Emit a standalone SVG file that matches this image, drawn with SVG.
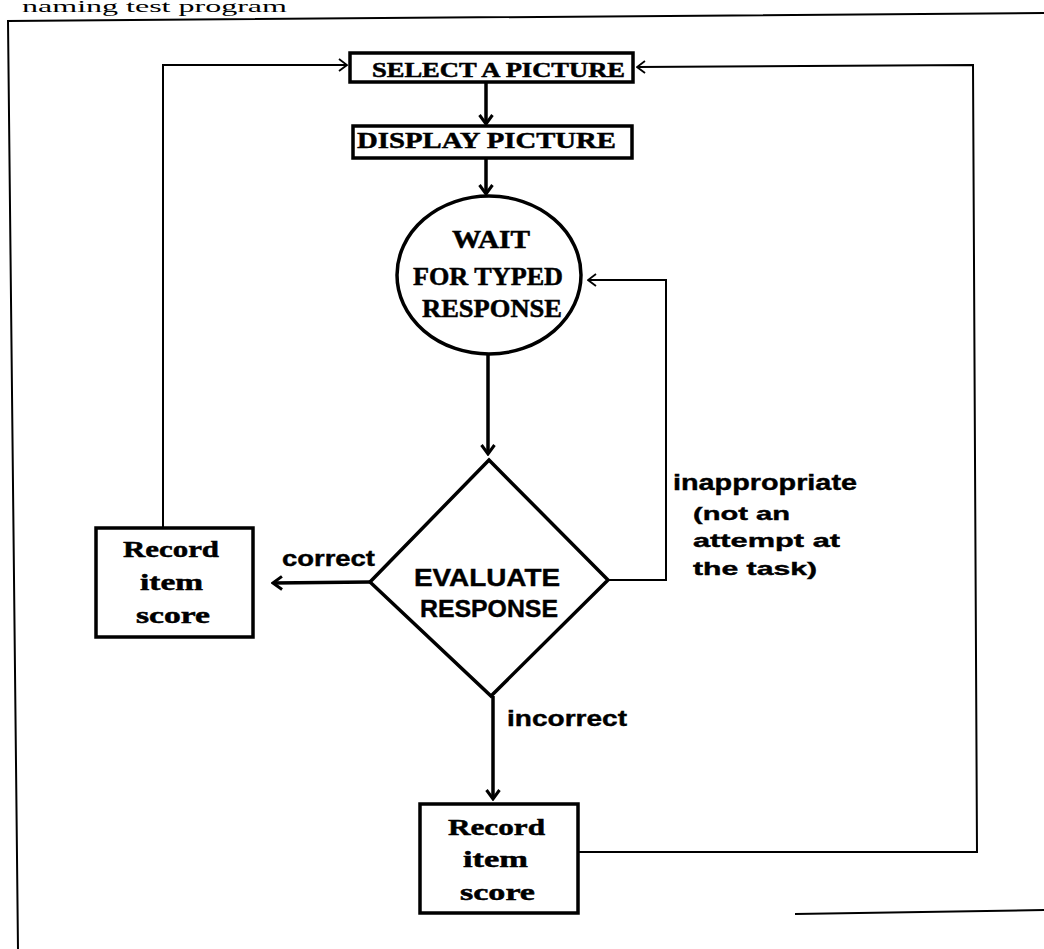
<svg xmlns="http://www.w3.org/2000/svg" width="1044" height="949" viewBox="0 0 1044 949">
<style>
.box{fill:#fff;stroke:#000;stroke-width:3.5}
.thick{fill:none;stroke:#000;stroke-width:3.5}
.thin{fill:none;stroke:#000;stroke-width:2}
.frame{fill:none;stroke:#000;stroke-width:2}
.serif{font-family:"Liberation Serif","DejaVu Serif",serif;font-weight:bold;fill:#000;stroke:#000;stroke-width:0.5}
.sans{font-family:"Liberation Sans","DejaVu Sans",sans-serif;font-weight:bold;fill:#000;stroke:#000;stroke-width:0.4}
.cap{font-family:"Liberation Serif","DejaVu Serif",serif;fill:#000}
</style>
<defs>
<marker id="ah" markerUnits="userSpaceOnUse" viewBox="0 0 12 16" markerWidth="12" markerHeight="16" refX="10" refY="8" orient="auto"><path d="M1,1.5 L10,8 L1,14.5" fill="none" stroke="#000" stroke-width="3"/></marker>
<marker id="aht" markerUnits="userSpaceOnUse" viewBox="0 0 10 14" markerWidth="10" markerHeight="14" refX="9" refY="7" orient="auto"><path d="M1,1 L9,7 L1,13" fill="none" stroke="#000" stroke-width="1.8"/></marker>
</defs>

<g id="page">
<text class="cap" x="22" y="12" font-size="16" textLength="265" lengthAdjust="spacingAndGlyphs">naming test program</text>
<path class="frame" d="M18,949 L8,21 L1044,13"/>
<path class="frame" d="M795,914 L1044,910"/>
</g>

<g id="connectors">
<line class="thick" x1="486" y1="82" x2="486" y2="124" marker-end="url(#ah)"/>
<line class="thick" x1="486" y1="158" x2="486" y2="194" marker-end="url(#ah)"/>
<line class="thick" x1="488" y1="355" x2="488" y2="454" marker-end="url(#ah)"/>
<line class="thick" x1="370" y1="582" x2="273" y2="583" marker-end="url(#ah)"/>
<line class="thick" x1="493" y1="696" x2="493" y2="799" marker-end="url(#ah)"/>
<path class="thin" d="M163,528 L163,65 L347,65" marker-end="url(#aht)"/>
<path class="thin" d="M578,852 L977,852 L973,65 L637,67" marker-end="url(#aht)"/>
<path class="thin" d="M608,580 L666,580 L666,280 L588,280" marker-end="url(#aht)"/>
<text class="sans" x="282" y="566" font-size="22" textLength="93" lengthAdjust="spacingAndGlyphs">correct</text>
<text class="sans" x="507" y="726" font-size="22" textLength="120" lengthAdjust="spacingAndGlyphs">incorrect</text>
<text class="sans" x="673" y="490" font-size="22" textLength="184" lengthAdjust="spacingAndGlyphs">inappropriate</text>
<text class="sans" x="693" y="520" font-size="19" textLength="97" lengthAdjust="spacingAndGlyphs">(not an</text>
<text class="sans" x="693" y="547" font-size="19" textLength="147" lengthAdjust="spacingAndGlyphs">attempt at</text>
<text class="sans" x="693" y="575" font-size="19" textLength="124" lengthAdjust="spacingAndGlyphs">the task)</text>
</g>

<g id="select">
<rect class="box" x="350" y="53" width="283" height="29"/>
<text class="serif" x="372" y="77" font-size="20" textLength="253" lengthAdjust="spacingAndGlyphs">SELECT A PICTURE</text>
</g>

<g id="display">
<rect class="box" x="353" y="126" width="279" height="32"/>
<text class="serif" x="357" y="148" font-size="24" textLength="259" lengthAdjust="spacingAndGlyphs">DISPLAY PICTURE</text>
</g>

<g id="wait">
<ellipse class="box" cx="489" cy="275" rx="92" ry="79"/>
<text class="serif" x="452" y="248" font-size="25" textLength="78" lengthAdjust="spacingAndGlyphs">WAIT</text>
<text class="serif" x="413" y="285" font-size="25" textLength="150" lengthAdjust="spacingAndGlyphs">FOR TYPED</text>
<text class="serif" x="422" y="317" font-size="25" textLength="140" lengthAdjust="spacingAndGlyphs">RESPONSE</text>
</g>

<g id="evaluate">
<polygon class="box" points="489,460 608,580 491,696 370,582"/>
<text class="sans" x="414" y="586" font-size="24" textLength="146" lengthAdjust="spacingAndGlyphs">EVALUATE</text>
<text class="sans" x="420" y="617" font-size="24" textLength="138" lengthAdjust="spacingAndGlyphs">RESPONSE</text>
</g>

<g id="record-correct">
<rect class="box" x="96" y="528" width="157" height="109"/>
<text class="serif" x="123" y="557" font-size="24" textLength="96" lengthAdjust="spacingAndGlyphs">Record</text>
<text class="serif" x="140" y="590" font-size="24" textLength="63" lengthAdjust="spacingAndGlyphs">item</text>
<text class="serif" x="136" y="623" font-size="24" textLength="74" lengthAdjust="spacingAndGlyphs">score</text>
</g>

<g id="record-incorrect">
<rect class="box" x="420" y="804" width="158" height="109"/>
<text class="serif" x="448" y="835" font-size="24" textLength="97" lengthAdjust="spacingAndGlyphs">Record</text>
<text class="serif" x="463" y="867" font-size="24" textLength="65" lengthAdjust="spacingAndGlyphs">item</text>
<text class="serif" x="460" y="900" font-size="24" textLength="75" lengthAdjust="spacingAndGlyphs">score</text>
</g>
</svg>
